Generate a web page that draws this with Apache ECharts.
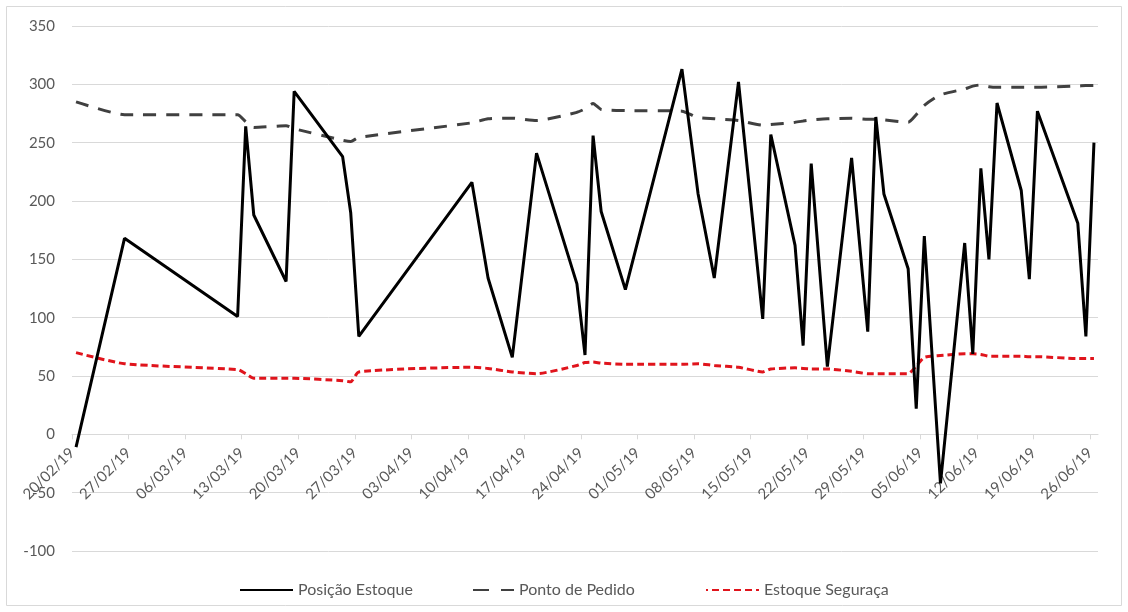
<!DOCTYPE html>
<html>
<head>
<meta charset="utf-8">
<script src="https://cdn.jsdelivr.net/npm/echarts@6/dist/echarts.min.js"></script>
<style>
  html, body { margin: 0; padding: 0; background: #fff; }
  #main { width: 1128px; height: 612px; }
</style>
</head>
<body>
<div id="main"></div>
<script>
// data rows (one per movement date)
var dates = [
  '2019-02-20', '2019-02-26', '2019-03-12', '2019-03-13', '2019-03-14', '2019-03-18',
  '2019-03-19', '2019-03-25', '2019-03-26', '2019-03-27', '2019-04-10', '2019-04-12',
  '2019-04-15', '2019-04-18', '2019-04-23', '2019-04-24', '2019-04-25', '2019-04-26',
  '2019-04-29', '2019-05-06', '2019-05-08', '2019-05-10', '2019-05-13', '2019-05-16',
  '2019-05-17', '2019-05-20', '2019-05-21', '2019-05-22', '2019-05-24', '2019-05-27',
  '2019-05-29', '2019-05-30', '2019-05-31', '2019-06-03', '2019-06-04', '2019-06-05',
  '2019-06-07', '2019-06-10', '2019-06-11', '2019-06-12', '2019-06-13', '2019-06-14',
  '2019-06-17', '2019-06-18', '2019-06-19', '2019-06-24', '2019-06-25', '2019-06-26'
];
var posicaoEstoque = [
  -11, 168, 101, 264, 188, 131,
  294, 238, 190, 84, 216, 134,
  66, 241, 129, 68, 256, 191,
  124, 313, 206, 134, 302, 99,
  257, 162, 76, 232, 58, 237,
  88, 272, 206, 142, 22, 170,
  -42, 164, 69, 228, 150, 284,
  209, 133, 277, 181, 84, 250
];
var pontoPedido = [
  285, 274, 274, 268, 263, 264.5,
  262, 252, 251, 254.5, 267, 270.5,
  271, 269, 276, 279, 283.6, 278.5,
  277.5, 277, 271.5, 270.5, 269, 265,
  265.5, 267.5, 268.5, 269.5, 270.5, 271,
  270, 270, 269.5, 267.5, 274, 282,
  291, 296, 298.5, 299.5, 298, 297.5,
  297.5, 297.5, 297.5, 298.5, 299, 299
];
var estoqueSeguranca = [
  70, 60.5, 55.5, 52, 48, 48,
  48, 46, 45, 53.5, 57.5, 56.5,
  53.5, 52, 59, 61.5, 62, 61,
  60, 60, 60.5, 59, 57.5, 53.5,
  56, 57, 56.5, 56, 56, 54,
  52, 52, 52, 52, 58.5, 66,
  67.5, 69, 69, 68.5, 67, 67,
  67, 66.5, 66.5, 65, 65, 65
];
var tickLabels = [
  '20/02/19', '27/02/19', '06/03/19', '13/03/19', '20/03/19', '27/03/19', '03/04/19',
  '10/04/19', '17/04/19', '24/04/19', '01/05/19', '08/05/19', '15/05/19', '22/05/19',
  '29/05/19', '05/06/19', '12/06/19', '19/06/19', '26/06/19'
];
var seriesNames = ['Posição Estoque', 'Ponto de Pedido', 'Estoque Seguraça'];

var DAY = 86400000;
var start = Date.UTC(2019, 1, 20);
function dayOf(s) {
  var p = s.split('-');
  return Math.round((Date.UTC(+p[0], +p[1] - 1, +p[2]) - start) / DAY);
}
// like Excel's date axis: each day is a band, the point sits in the middle of it
function pairs(vals) {
  return dates.map(function (d, i) { return [dayOf(d) + 0.5, vals[i]]; });
}
var tickValues = tickLabels.map(function (t, i) { return i * 7; });

var font = 'Lato, "Noto Sans", sans-serif';
var grey = '#595959';

var yMin = -100, yMax = 350;
var gridTop = 26, gridBottom = 61;
var plotH = 612 - gridTop - gridBottom;
// Excel puts the category axis where y = 0 crosses
var axisShift = -plotH * (0 - yMin) / (yMax - yMin);

function legendAt(i, left, extra) {
  var l = {
    data: [seriesNames[i]],
    left: left,
    top: 582,
    padding: 0,
    itemWidth: 53,
    itemHeight: 14,
    itemStyle: { opacity: 0 },
    textStyle: { fontSize: 16, color: grey, fontFamily: font }
  };
  if (extra) l.lineStyle = extra;
  return l;
}

var chartDom = document.getElementById('main');
var myChart = echarts.init(chartDom);

var option = {
  animation: false,
  textStyle: { fontFamily: font },
  grid: { left: 72, right: 30, top: gridTop, bottom: gridBottom },
  legend: [
    legendAt(0, 239),
    legendAt(1, 460, { type: [16, 12], dashOffset: 16 }),
    legendAt(2, 705)
  ],
  xAxis: {
    type: 'value',
    min: 0,
    max: tickValues[tickValues.length - 1] + 1,
    offset: axisShift,
    splitLine: { show: false },
    axisLine: { onZero: false, lineStyle: { color: '#d9d9d9', width: 1 } },
    axisTick: { show: true, length: 5, customValues: tickValues, lineStyle: { color: '#d9d9d9' } },
    axisLabel: {
      customValues: tickValues,
      rotate: 45,
      margin: 16,
      fontSize: 15,
      color: grey,
      formatter: function (v) { return tickLabels[Math.round(v / 7)] || ''; }
    }
  },
  yAxis: {
    type: 'value',
    min: yMin,
    max: yMax,
    interval: 50,
    axisLine: { show: false },
    axisTick: { show: false },
    axisLabel: { fontSize: 15, color: grey, margin: 17 },
    splitLine: { lineStyle: { color: '#d9d9d9', width: 1 } }
  },
  series: [
    {
      name: seriesNames[0],
      type: 'line',
      data: pairs(posicaoEstoque),
      symbol: 'none',
      lineStyle: { color: '#000', width: 3 },
      itemStyle: { color: '#000' },
      z: 3
    },
    {
      name: seriesNames[1],
      type: 'line',
      data: pairs(pontoPedido),
      symbol: 'none',
      smooth: 0.2,
      lineStyle: { color: '#404040', width: 3, type: [13, 10] },
      itemStyle: { color: '#404040' },
      z: 2
    },
    {
      name: seriesNames[2],
      type: 'line',
      data: pairs(estoqueSeguranca),
      symbol: 'none',
      smooth: 0.2,
      lineStyle: { color: '#e0141c', width: 3, type: [7, 4] },
      itemStyle: { color: '#e0141c' },
      z: 2
    }
  ],
  graphic: [
    {
      type: 'rect',
      shape: { x: 6.5, y: 6.5, width: 1115, height: 599 },
      style: { fill: 'none', stroke: '#d9d9d9', lineWidth: 1 },
      silent: true
    }
  ]
};

myChart.setOption(option);

window.addEventListener('resize', function () { myChart.resize(); });
</script>
</body>
</html>
